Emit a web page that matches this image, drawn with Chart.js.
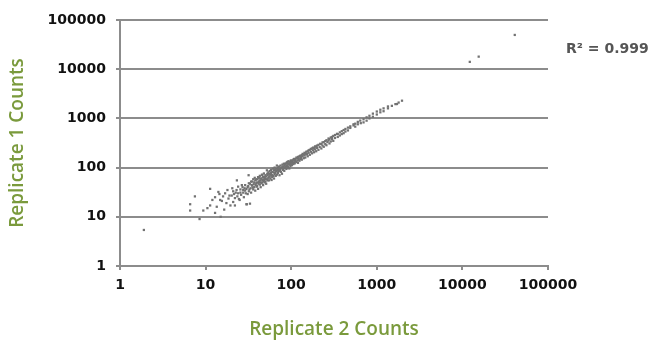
<!DOCTYPE html>
<html>
<head>
<meta charset="utf-8">
<script src="https://cdn.jsdelivr.net/npm/chart.js@4.4.1/dist/chart.umd.min.js"></script>
<style>
  html, body { margin: 0; padding: 0; background: #fff; }
  #wrap { width: 654px; height: 340px; position: relative; }
</style>
</head>
<body>
<div id="wrap"><canvas id="scatter"></canvas></div>
<script>
// tick values (both axes, log decades)
const tickValues = [1, 10, 100, 1000, 10000, 100000];

// Replicate 2 counts (x)
const rep2 = [
  1.9,
  6.6, 6.6, 7.5, 8.5, 9.4, 10.5, 11.3, 11.3, 12, 12.9, 12.9, 13.5, 14.1, 14.5, 14.8, 15, 15.5, 16, 16.5,
  16.9, 17.5, 18, 18.5, 19, 19.5,
  20.2, 20.5, 21, 21, 21.5, 22, 22, 22.5, 23, 23.2, 23.5, 24, 24, 24.5, 25, 25.5, 25.5, 26, 26.5, 27,
  27.5, 27.5, 28, 28.5, 29, 29, 29.5, 30, 30, 30.3,
  31, 31, 31.5, 31.8, 32, 32, 32.5, 33, 33, 33.5, 34, 34, 34.5, 35, 35, 35.5, 36, 36, 36.5, 37,
  37, 37.5, 38, 38, 38.5, 39, 39, 39.5, 40, 40, 40, 41, 41, 41.5, 42, 42, 42.5, 43, 43, 43.5,
  44, 44, 44.5, 45, 45, 45.5, 46, 46, 46.5, 47, 47, 47.5, 48, 48, 48.5, 49, 49, 49.5, 50, 50, 50,
  51, 51, 52, 52, 52.5, 53, 53, 54, 54, 55, 55, 55.5, 56, 56, 57, 57, 58, 58, 59, 59,
  60, 60, 60, 61, 62, 62, 63, 63, 64, 64, 65, 65, 66, 66, 67, 67, 68, 68, 69, 70,
  70, 70, 71, 72, 72, 73, 73, 74, 75, 75, 76, 77, 78, 78, 79, 80, 80, 81, 82, 82,
  83, 84, 85, 85, 86, 87, 88, 88, 89, 90, 90, 91, 92, 92, 93, 94, 95, 95, 96, 97,
  98, 99, 100, 100,
  102, 102, 104, 104, 106, 106, 108, 108, 110, 110, 112, 112, 115, 115, 118, 118, 120, 120, 122, 122,
  125, 125, 128, 128, 130, 130, 133, 133, 136, 136, 140, 140, 143, 143, 146, 146, 150, 150, 153, 156,
  156, 160, 160, 165, 165, 170, 170, 175, 175, 180, 180, 185, 185, 190, 190, 196, 196, 200, 200, 208,
  208, 215, 218, 225, 225, 232, 232, 240, 240, 250, 250, 258, 258, 265, 273, 273, 280, 280, 290, 290,
  300, 300,
  310, 310, 325, 325, 343, 350, 350, 370, 370, 390, 390, 410, 410, 430, 430, 460, 460, 490, 490, 535,
  535, 560, 560, 600, 600, 641, 650, 700, 700, 760, 760, 820, 820, 900, 900, 1000, 1000, 1100, 1100, 1200,
  1200, 1350, 1350, 1500, 1650, 1722, 1800, 1970,
  12200, 15500, 40900
];

// Replicate 1 counts (y), same order
const rep1 = [
  5.4,
  18, 13.4, 26, 9, 13.4, 15, 17, 37, 22, 25, 12, 16, 32, 29, 22, 10, 21, 26, 14,
  30, 19, 35, 23.5, 27, 17,
  27, 38, 20, 33, 29, 24, 17, 31, 35, 55, 26, 30, 41, 23, 22, 36, 31, 28, 44, 40,
  31, 35, 25, 38, 34, 44, 30, 18, 37, 18,
  29, 40, 42, 70, 33, 48, 36, 47, 18.5, 38, 31, 52, 44, 43, 52, 39, 36, 58, 46, 40,
  50, 62, 55, 34, 44, 48, 57, 41, 42, 58, 50, 37, 64, 47, 51, 62, 55, 45, 68, 50,
  55, 40, 60, 60, 48, 72, 50, 70, 56, 44, 64, 53, 56, 76, 62, 65, 50, 58, 52, 60, 70,
  47, 66, 88, 58, 75, 70, 55, 62, 80, 55, 75, 66, 66, 85, 60, 72, 78, 90, 56, 70,
  70, 64, 82, 95, 80, 68, 60, 88, 74, 100, 90, 78, 68, 85, 84, 95, 110, 72, 88, 78,
  92, 100, 84, 86, 105, 70, 95, 90, 95, 110, 82, 100, 100, 75, 115, 90, 105, 96, 105, 120,
  86, 112, 98, 118, 120, 105, 94, 125, 110, 110, 130, 100, 102, 120, 135, 115, 96, 125, 118, 130,
  108, 140, 125, 115,
  112, 135, 140, 125, 118, 145, 128, 150, 122, 140, 150, 135, 130, 160, 140, 155, 125, 165, 158, 145,
  138, 170, 150, 175, 165, 155, 145, 180, 170, 190, 155, 185, 178, 200, 160, 195, 185, 210, 190, 170,
  215, 200, 225, 182, 230, 210, 240, 195, 245, 225, 255, 205, 250, 235, 270, 215, 265, 250, 280, 230,
  290, 262, 305, 245, 300, 280, 325, 265, 330, 300, 345, 285, 360, 330, 356, 390, 310, 380, 340, 410,
  380, 420,
  350, 440, 400, 460, 486, 420, 480, 450, 520, 480, 550, 500, 580, 540, 610, 570, 650, 640, 690, 720,
  760, 680, 780, 760, 850, 902, 800, 830, 960, 900, 1050, 1000, 1130, 1080, 1250, 1200, 1380, 1330, 1500, 1400,
  1600, 1600, 1750, 1800, 1950, 1960, 2100, 2290,
  14100, 18000, 49700
];

const rSquared = 'R² = 0.999';

const points = rep2.map((x, i) => ({ x: x, y: rep1[i] }));

const greenTitle = '#7a9a3c';
const gridGray = '#8c8c8c';

// draws the R² note to the right of the plot
const r2Note = {
  id: 'r2Note',
  afterDraw(chart) {
    const c = chart.ctx;
    c.save();
    c.font = 'bold 14px "DejaVu Sans"';
    c.fillStyle = '#555555';
    c.textAlign = 'left';
    c.textBaseline = 'middle';
    c.fillText(rSquared, 566, 49);
    c.restore();
  }
};

const decadeTicks = (scale) => {
  scale.ticks = tickValues.map(v => ({ value: v }));
};

const ctx = document.getElementById('scatter').getContext('2d');
const chart = new Chart(ctx, {
  type: 'scatter',
  data: {
    datasets: [{
      label: 'counts',
      data: points,
      backgroundColor: '#727272',
      borderColor: '#727272',
      borderWidth: 0,
      pointRadius: 1.6,
      pointStyle: 'rect'
    }]
  },
  options: {
    responsive: true,
    maintainAspectRatio: false,
    animation: false,
    layout: {
      padding: { left: 0, right: 106, top: 20, bottom: 0 }
    },
    plugins: {
      legend: { display: false },
      tooltip: { enabled: false }
    },
    scales: {
      x: {
        type: 'logarithmic',
        min: 1,
        max: 100000,
        afterBuildTicks: decadeTicks,
        afterFit: (s) => { s.height = 74; },
        border: { display: true, color: gridGray, width: 2 },
        grid: { drawOnChartArea: false, drawTicks: true, tickLength: 4, color: gridGray, lineWidth: 2 },
        ticks: {
          color: '#111',
          padding: 7,
          maxRotation: 0,
          font: { family: 'DejaVu Sans', size: 14, weight: 'bold' },
          callback: (v) => String(v)
        },
        title: {
          display: true,
          text: 'Replicate 2 Counts',
          color: greenTitle,
          padding: { top: 0, bottom: -1 },
          font: { family: 'Open Sans', size: 19, weight: '600' }
        }
      },
      y: {
        type: 'logarithmic',
        min: 1,
        max: 100000,
        afterBuildTicks: decadeTicks,
        afterFit: (s) => { s.width = 120; },
        border: { display: true, color: gridGray, width: 2 },
        grid: { drawOnChartArea: true, drawTicks: true, tickLength: 4, color: gridGray, lineWidth: 2 },
        ticks: {
          color: '#111',
          padding: 10,
          font: { family: 'DejaVu Sans', size: 14, weight: 'bold' },
          callback: (v) => String(v)
        },
        title: {
          display: true,
          text: 'Replicate 1 Counts',
          color: greenTitle,
          padding: { top: 6, bottom: 0 },
          font: { family: 'Open Sans', size: 19, weight: '600' }
        }
      }
    }
  },
  plugins: [r2Note]
});
</script>
</body>
</html>
